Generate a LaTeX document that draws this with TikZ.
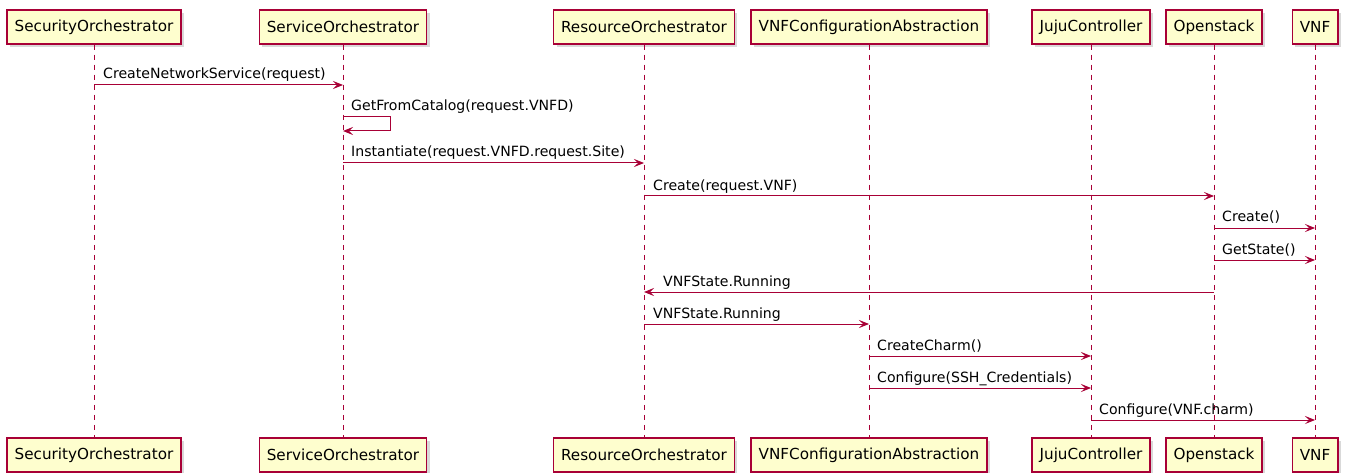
\documentclass[tikz,border=0pt]{standalone}
\usepackage{fontspec}
\setmainfont{DejaVu Sans}
\usetikzlibrary{arrows.meta,shadows}
\definecolor{umlred}{HTML}{A80036}
\definecolor{umlfill}{HTML}{FEFECE}
\tikzset{
    actor/.style={draw=umlred,fill=umlfill,line width=1.5pt,minimum height=34pt,
        inner xsep=7.5pt,font=\fontsize{15.2}{17}\selectfont,
        drop shadow={shadow xshift=3pt,shadow yshift=-3pt,opacity=0.3}},
    life/.style={umlred,line width=1pt,dash pattern=on 5pt off 5pt},
    msg/.style={umlred,line width=1pt,-{Stealth[length=10pt,width=8pt,inset=4pt]}},
    lbl/.style={anchor=base west,inner sep=0pt,text=black,font=\fontsize{14.1}{16}\selectfont}
}
\begin{document}
\begin{tikzpicture}[x=1pt,y=-1pt]
    \useasboundingbox (0,0) rectangle (1346,473);
    %participants, top and bottom, with lifelines
    \foreach \n/\x/\t in {so/94/SecurityOrchestrator,sv/343/ServiceOrchestrator,
        ro/644/ResourceOrchestrator,vc/869/VNFConfigurationAbstraction,
        jc/1091/JujuController,os/1214/Openstack,vnf/1315/VNF}
        {%
            \node[actor] (t\n) at (\x,27) {\t};
            \node[actor] (b\n) at (\x,455) {\t};
            \draw[life] (t\n) -- (b\n);
        }
    %draw messages
    \draw[msg] (tso |- 0,85) -- (tsv |- 0,85);
    \node[lbl] at (103,79) {CreateNetworkService(request)};
    \draw[msg] (tsv |- 0,117) -- ++(47,0) -- ++(0,14) -- (tsv |- 0,131);
    \node[lbl] at (351,111) {GetFromCatalog(request.VNFD)};
    \draw[msg] (tsv |- 0,163) -- (tro |- 0,163);
    \node[lbl] at (351,157) {Instantiate(request.VNFD.request.Site)};
    \draw[msg] (tro |- 0,196) -- (tos |- 0,196);
    \node[lbl] at (653,190) {Create(request.VNF)};
    \draw[msg] (tos |- 0,228) -- (tvnf |- 0,228);
    \node[lbl] at (1222,222) {Create()};
    \draw[msg] (tos |- 0,260) -- (tvnf |- 0,260);
    \node[lbl] at (1222,254) {GetState()};
    \draw[msg] (tos |- 0,292) -- (tro |- 0,292);
    \node[lbl] at (663,286) {VNFState.Running};
    \draw[msg] (tro |- 0,324) -- (tvc |- 0,324);
    \node[lbl] at (653,318) {VNFState.Running};
    \draw[msg] (tvc |- 0,356) -- (tjc |- 0,356);
    \node[lbl] at (877,350) {CreateCharm()};
    \draw[msg] (tvc |- 0,388) -- (tjc |- 0,388);
    \node[lbl] at (877,382) {Configure(SSH\_Credentials)};
    \draw[msg] (tjc |- 0,420) -- (tvnf |- 0,420);
    \node[lbl] at (1099,414) {Configure(VNF.charm)};
\end{tikzpicture}
\end{document}
